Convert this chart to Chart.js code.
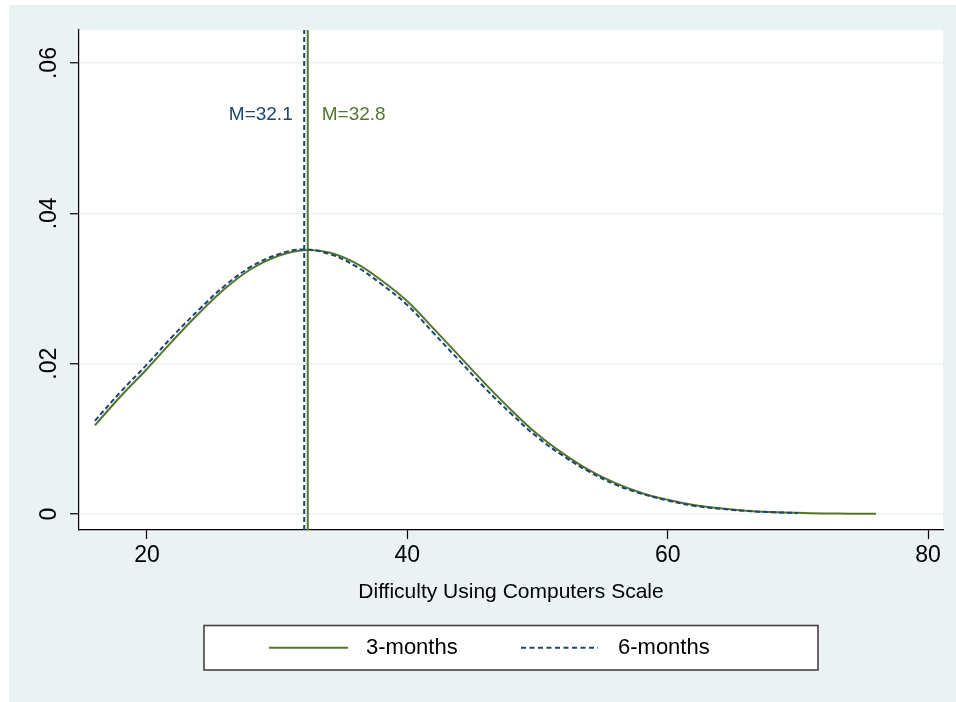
<!DOCTYPE html>
<html>
<head>
<meta charset="utf-8">
<title>Difficulty Using Computers Scale</title>
<script src="https://cdn.jsdelivr.net/npm/chart.js@4"></script>
<style>
  html, body { margin: 0; padding: 0; background: #fff; }
  canvas { display: block; }
</style>
</head>
<body>
<canvas id="densityChart" width="956" height="702"></canvas>
<script>
// values
const seriesLabels = ["3-months", "6-months"];
const x3 = [16, 18, 20, 22, 24, 26, 28, 30, 32, 34, 36, 38, 40, 42, 44, 46, 48, 50, 52, 54, 56, 58, 60, 62, 64, 66, 68, 70, 72, 74, 76];
const y3 = [0.0118, 0.0157, 0.0193, 0.0231, 0.0267, 0.0300, 0.0326, 0.0343, 0.0351, 0.0348, 0.0334, 0.0311, 0.0283, 0.0247, 0.0210, 0.0173, 0.0138, 0.0106, 0.0080, 0.0058, 0.0041, 0.0028, 0.0019, 0.0012, 0.00075, 0.00044, 0.00026, 0.00015, 0.00008, 0.00004, 0.00002];
const x6 = [16, 18, 20, 22, 24, 26, 28, 30, 32, 34, 36, 38, 40, 42, 44, 46, 48, 50, 52, 54, 56, 58, 60, 62, 64, 66, 68, 70];
const y6 = [0.0124, 0.0163, 0.0199, 0.0237, 0.0272, 0.0304, 0.0329, 0.0345, 0.0352, 0.0346, 0.0330, 0.0306, 0.0278, 0.0241, 0.0204, 0.0167, 0.0133, 0.0102, 0.0077, 0.0056, 0.0039, 0.0027, 0.0018, 0.0011, 0.0007, 0.0004, 0.00024, 0.00013];
const meanX = [32.35, 32.08];
const meanLabels = ["M=32.8", "M=32.1"];
const xTicks = [20, 40, 60, 80];
const yTicks = [0, 0.02, 0.04, 0.06];
const yTickLabels = ["0", ".02", ".04", ".06"];
const xTitle = "Difficulty Using Computers Scale";

const GREEN = "#55752f";
const NAVY = "#1a476f";
const BG = "#eaf2f3";
const FONT = "'Liberation Sans', Arial, sans-serif";
const X_MIN = 14.78, X_MAX = 81.15;
const Y_MIN = -0.00213, Y_MAX = 0.0644;

const toPoints = (xs, ys) => xs.map((x, i) => ({ x: x, y: ys[i] }));
const vline = (x) => [{ x: x, y: Y_MIN }, { x: x, y: Y_MAX }];

// Stata-like frame, mean labels and legend box
const stataDecor = {
  id: "stataDecor",
  beforeDraw(chart) {
    const { ctx, chartArea: a } = chart;
    ctx.save();
    ctx.fillStyle = "#fff";
    ctx.fillRect(0, 0, chart.width, chart.height);
    ctx.fillStyle = BG;
    ctx.fillRect(9, 5, chart.width - 9, chart.height - 5);
    ctx.fillStyle = "#fff";
    ctx.fillRect(a.left, a.top, a.right - a.left, a.bottom - a.top);
    ctx.restore();
  },
  afterDatasetsDraw(chart) {
    const { ctx, scales } = chart;
    const y = scales.y.getPixelForValue(0.0531);
    ctx.save();
    ctx.font = "19px " + FONT;
    ctx.textBaseline = "middle";
    ctx.fillStyle = GREEN;
    ctx.textAlign = "left";
    ctx.fillText(meanLabels[0], scales.x.getPixelForValue(meanX[0]) + 14, y);
    ctx.fillStyle = NAVY;
    ctx.textAlign = "right";
    ctx.fillText(meanLabels[1], scales.x.getPixelForValue(meanX[1]) - 11.5, y);
    ctx.restore();
  },
  afterDraw(chart) {
    const { ctx, chartArea: a } = chart;
    const cx = (a.left + a.right) / 2;
    const left = cx - 307, top = 625.5, w = 614, h = 44.5;
    const cy = top + h / 2;
    ctx.save();
    ctx.fillStyle = "#fff";
    ctx.fillRect(left, top, w, h);
    ctx.strokeStyle = "#444";
    ctx.lineWidth = 1.6;
    ctx.strokeRect(left, top, w, h);

    ctx.lineWidth = 2;
    ctx.strokeStyle = GREEN;
    ctx.beginPath();
    ctx.moveTo(left + 65, cy);
    ctx.lineTo(left + 144, cy);
    ctx.stroke();
    ctx.strokeStyle = NAVY;
    ctx.setLineDash([5, 3.5]);
    ctx.beginPath();
    ctx.moveTo(left + 317, cy);
    ctx.lineTo(left + 394, cy);
    ctx.stroke();
    ctx.setLineDash([]);

    ctx.fillStyle = "#000";
    ctx.font = "22px " + FONT;
    ctx.textAlign = "left";
    ctx.textBaseline = "middle";
    ctx.fillText(seriesLabels[0], left + 162, cy);
    ctx.fillText(seriesLabels[1], left + 414, cy);
    ctx.restore();
  }
};

new Chart(document.getElementById("densityChart"), {
  type: "line",
  data: {
    datasets: [
      {
        label: seriesLabels[0],
        data: toPoints(x3, y3),
        borderColor: GREEN,
        borderWidth: 2,
        pointRadius: 0,
        tension: 0.4,
        fill: false,
        order: 2
      },
      {
        label: seriesLabels[1],
        data: toPoints(x6, y6),
        borderColor: NAVY,
        borderWidth: 2,
        borderDash: [5, 3],
        pointRadius: 0,
        tension: 0.4,
        fill: false,
        order: 1
      },
      {
        label: "mean 3",
        data: vline(meanX[0]),
        borderColor: GREEN,
        borderWidth: 2,
        pointRadius: 0,
        order: 3
      },
      {
        label: "mean 6",
        data: vline(meanX[1]),
        borderColor: NAVY,
        borderWidth: 2,
        borderDash: [5, 3],
        pointRadius: 0,
        order: 0
      }
    ]
  },
  options: {
    responsive: false,
    animation: false,
    layout: { padding: { left: 0, top: 30, right: 13, bottom: 97 } },
    plugins: {
      legend: { display: false },
      tooltip: { enabled: false }
    },
    scales: {
      x: {
        type: "linear",
        min: X_MIN,
        max: X_MAX,
        afterBuildTicks(scale) {
          scale.ticks = xTicks.map((v) => ({ value: v }));
        },
        afterFit(scale) {
          scale.height = 75;
        },
        grid: {
          drawOnChartArea: false,
          drawTicks: true,
          tickLength: 9,
          tickColor: "#000",
          tickWidth: 1.2
        },
        border: { display: true, color: "#000", width: 1.2 },
        ticks: {
          color: "#000",
          font: { family: FONT, size: 23 },
          padding: 3,
          maxRotation: 0,
          autoSkip: false
        },
        title: {
          display: true,
          text: xTitle,
          color: "#000",
          font: { family: FONT, size: 21 },
          padding: 0
        }
      },
      y: {
        type: "linear",
        min: Y_MIN,
        max: Y_MAX,
        afterBuildTicks(scale) {
          scale.ticks = yTicks.map((v) => ({ value: v }));
        },
        afterFit(scale) {
          scale.width = 79;
        },
        grid: {
          color: BG,
          lineWidth: 1.5,
          drawTicks: true,
          tickLength: 9,
          tickColor: "#000",
          tickWidth: 1.2
        },
        border: { display: true, color: "#000", width: 1.2 },
        ticks: {
          color: "#000",
          font: { family: FONT, size: 23 },
          padding: 4,
          minRotation: 90,
          maxRotation: 90,
          crossAlign: "center",
          autoSkip: false,
          callback(value) {
            const i = yTicks.indexOf(value);
            return i >= 0 ? yTickLabels[i] : "";
          }
        }
      }
    }
  },
  plugins: [stataDecor]
});
</script>
</body>
</html>
